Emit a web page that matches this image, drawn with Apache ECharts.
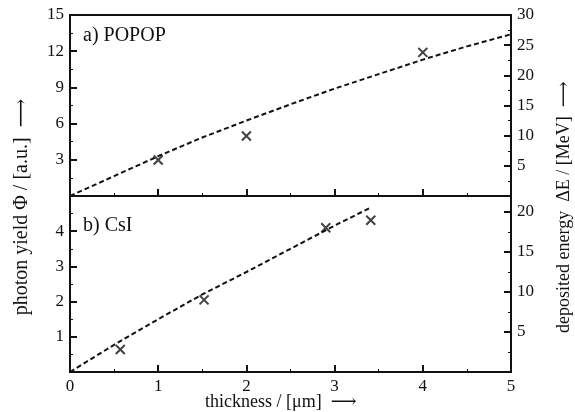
<!DOCTYPE html>
<html><head><meta charset="utf-8">
<script src="https://cdn.jsdelivr.net/npm/echarts@6/dist/echarts.min.js"></script>
<style>html,body{margin:0;padding:0;background:#fff}#c{width:575px;height:412px}</style>
</head><body><div id="c"></div>
<script>
// Data
const xTicks = [0, 1, 2, 3, 4, 5];
const popopThickness = [1, 2, 4];
const popopYield = [2.98, 4.97, 11.9];
const csiThickness = [0.57, 1.52, 2.9, 3.41];
const csiYield = [0.64, 2.05, 4.1, 4.31];
const energyThicknessTop = [0, 0.5, 1, 1.5, 2, 2.5, 3, 3.5, 4, 4.5, 5];
const energyTop = [0, 3.3, 6.6, 9.7, 12.5, 15.2, 17.8, 20.2, 22.6, 24.8, 26.8];
const energyThicknessBot = [0, 0.5, 1, 1.5, 2, 2.5, 3, 3.4];
const energyBot = [0, 3.4, 6.6, 9.7, 12.5, 15.4, 18.3, 20.5];

const FONT = '"Liberation Serif", "DejaVu Serif", serif';
const chart = echarts.init(document.getElementById('c'), null, {renderer: 'canvas'});
const lineC = '#111';
const lbl = (fmt) => ({color: '#111', fontFamily: FONT, fontSize: 17, margin: 6, formatter: fmt});
function axisCommon(extra) {
  return Object.assign({
    axisLine: {show: true, onZero: false, lineStyle: {color: lineC, width: 2}},
    axisTick: {show: true, inside: true, length: 7, lineStyle: {color: lineC, width: 2}},
    minorTick: {show: true, splitNumber: 2, length: 3, lineStyle: {color: lineC, width: 1}},
    splitLine: {show: false}
  }, extra);
}
const crossPath = 'path://M0,0L10,10M10,0L0,10';
chart.setOption({
  animation: false,
  grid: [
    {left: 70, right: 64, top: 15, height: 181, show: true, borderColor: lineC, borderWidth: 2},
    {left: 70, right: 64, top: 196, bottom: 40, show: true, borderColor: lineC, borderWidth: 2}
  ],
  xAxis: [
    axisCommon({gridIndex: 0, type: 'value', min: 0, max: 5, interval: 1, axisLabel: {show: false}}),
    axisCommon({gridIndex: 1, type: 'value', min: 0, max: 5, interval: 1,
      axisLabel: lbl(v => xTicks.includes(v) ? String(v) : '')})
  ],
  yAxis: [
    axisCommon({gridIndex: 0, type: 'value', min: 0, max: 15, interval: 3, position: 'left',
      axisLabel: lbl(v => v === 0 ? '' : String(v))}),
    axisCommon({gridIndex: 0, type: 'value', min: 0, max: 30, interval: 5, position: 'right',
      axisLabel: lbl(v => v === 0 ? '' : String(v))}),
    axisCommon({gridIndex: 1, type: 'value', min: 0, max: 5, interval: 1, position: 'left',
      axisLabel: lbl(v => (v === 0 || v === 5) ? '' : String(v))}),
    axisCommon({gridIndex: 1, type: 'value', min: 0, max: 22, interval: 5, position: 'right',
      axisLabel: lbl(v => (v === 0 || v % 5 !== 0) ? '' : String(v))})
  ],
  series: [
    {type: 'line', xAxisIndex: 0, yAxisIndex: 1, showSymbol: false, symbol: 'none',
      data: energyThicknessTop.map((x, i) => [x, energyTop[i]]),
      lineStyle: {color: lineC, width: 2, type: [5, 3]}},
    {type: 'scatter', xAxisIndex: 0, yAxisIndex: 0, symbol: crossPath, symbolSize: 9,
      data: popopThickness.map((x, i) => [x, popopYield[i]]),
      itemStyle: {color: 'none', borderColor: lineC, borderWidth: 2}},
    {type: 'line', xAxisIndex: 1, yAxisIndex: 3, showSymbol: false, symbol: 'none',
      data: energyThicknessBot.map((x, i) => [x, energyBot[i]]),
      lineStyle: {color: lineC, width: 2, type: [5, 3]}},
    {type: 'scatter', xAxisIndex: 1, yAxisIndex: 2, symbol: crossPath, symbolSize: 9,
      data: csiThickness.map((x, i) => [x, csiYield[i]]),
      itemStyle: {color: 'none', borderColor: lineC, borderWidth: 2}}
  ],
  graphic: [
    {type: 'text', x: 83, y: 36, style: {text: 'a) POPOP', font: '20px ' + FONT, fill: '#111', verticalAlign: 'middle'}},
    {type: 'text', x: 83, y: 226, style: {text: 'b) CsI', font: '20px ' + FONT, fill: '#111', verticalAlign: 'middle'}},
    {type: 'text', x: 205, y: 402, style: {text: 'thickness / [μm]  ⟶', font: '18px ' + FONT, fill: '#111', verticalAlign: 'middle'}},
    {type: 'text', x: 22, y: 207, rotation: Math.PI / 2,
      style: {text: 'photon yield Φ / [a.u.]  ⟶', font: '20px ' + FONT, fill: '#111', align: 'center', verticalAlign: 'middle'}},
    {type: 'text', x: 564, y: 333, rotation: Math.PI / 2,
      style: {text: 'deposited energy  ΔE / [MeV]  ⟶', font: '18px ' + FONT, fill: '#111', align: 'left', verticalAlign: 'middle'}}
  ]
});
</script></body></html>
